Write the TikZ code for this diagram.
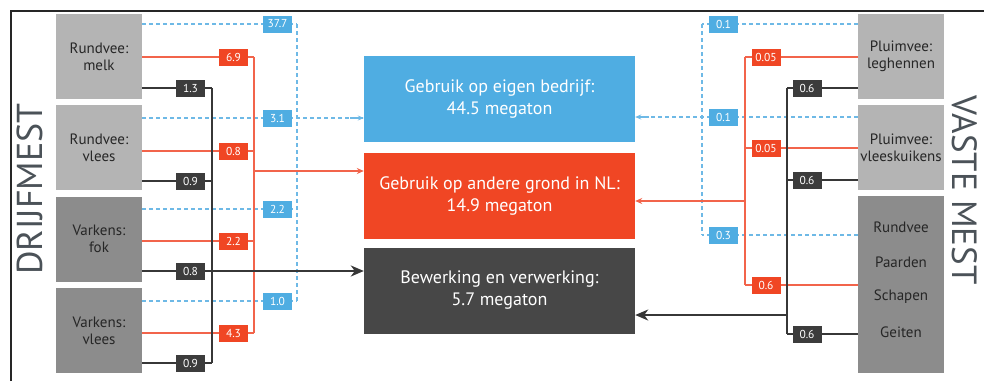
\documentclass[tikz,border=0pt]{standalone}
\usepackage{fontspec}
\setmainfont{PT Sans}
\usetikzlibrary{arrows.meta}
\definecolor{cblue}{RGB}{79,173,226}
\definecolor{cred}{RGB}{240,70,36}
\definecolor{cdark}{RGB}{71,71,71}
\definecolor{clab}{RGB}{60,60,60}
\definecolor{cline}{RGB}{55,55,55}
\definecolor{cgl}{RGB}{180,180,180}
\definecolor{cgd}{RGB}{140,140,140}
\definecolor{ctitle}{RGB}{75,82,88}
\definecolor{cdash}{RGB}{110,185,230}
\definecolor{credl}{RGB}{242,100,75}
\tikzset{
  srcl/.style={fill=cgl, minimum width=86pt, minimum height=85pt, inner sep=0pt, align=center, font=\fontsize{15}{17}\selectfont, text=black!85},
  srcd/.style={srcl, fill=cgd},
  srct/.style={font=\fontsize{15}{17}\selectfont, text=black!85},
  big/.style={minimum width=271pt, minimum height=86pt, inner sep=0pt, align=center, text=white, font=\fontsize{18}{22}\selectfont},
  lab/.style={minimum width=29pt, minimum height=17pt, inner sep=0pt, text=white, font=\fontsize{11.5}{12}\selectfont},
  lb/.style={lab, fill=cblue},
  lr/.style={lab, fill=cred},
  ld/.style={lab, fill=clab},
  bl/.style={draw=cdash, line width=1.1pt, dash pattern=on 4pt off 3pt},
  rl/.style={draw=credl, line width=1.1pt},
  dl/.style={draw=cline, line width=2pt},
  title/.style={text=ctitle, font=\fontsize{36}{36}\selectfont},
}
\begin{document}
\begin{tikzpicture}[x=1pt, y=-1pt]
\useasboundingbox (0,0) rectangle (984,381);
\draw[line width=2pt, black!85] (11,381) -- (11,11) -- (984,11);

% titles
\node[title, rotate=90] (t1) at (30,189) {DRIJFMEST};
\node[title, rotate=-90, font=\fontsize{35}{35}\selectfont] (t2) at (965,190) {VASTE MEST};

% central boxes
\node[big, fill=cblue] (B) at (499.5,99) {Gebruik op eigen bedrijf:\\44.5 megaton};
\node[big, fill=cred] (R) at (499.5,195.5) {Gebruik op andere grond in NL:\\14.9 megaton};
\node[big, fill=cdark] (D) at (499.5,290.5) {Bewerking en verwerking:\\5.7 megaton};

% left source boxes
\node[srcl] (m1) at (99,56.5) {Rundvee:\\melk};
\node[srcl] (m2) at (99,147.5) {Rundvee:\\vlees};
\node[srcd] (m3) at (99,239) {Varkens:\\fok};
\node[srcd] (m4) at (99,330.5) {Varkens:\\vlees};

% right source boxes
\node[srcl] (p1) at (901,56.5) {Pluimvee:\\leghennen};
\node[srcl] (p2) at (901,147.5) {Pluimvee:\\vleeskuikens};
\node[srcd, minimum height=177pt] (p3) at (901,284.5) {};
\node[srct] (q1) at (901,227) {Rundvee};
\node[srct] (q2) at (901,262) {Paarden};
\node[srct] (q3) at (901,297) {Schapen};
\node[srct] (q4) at (901,332) {Geiten};

% left verticals
\coordinate (bvt) at (297,24);
\coordinate (bvb) at (297,301);
\coordinate (rvt) at (254,57);
\coordinate (rvb) at (254,333);
\coordinate (rj) at (254,171);
\coordinate (dvt) at (212,88);
\coordinate (dvb) at (212,363);

% right verticals
\coordinate (Bvt) at (702,24);
\coordinate (Bvb) at (702,235);
\coordinate (Rvt) at (745,57);
\coordinate (Rvb) at (745,285);
\coordinate (Rj) at (745,201);
\coordinate (Dvt) at (787,88);
\coordinate (Dvb) at (787,334);
\coordinate (Dj) at (787,315);

% ---- left blue dashed
\draw[bl] (bvt) -- (bvb);
\draw[bl] (m1.east |- bvt) -- (bvt);
\draw[bl] (m2.east |- 0,118) -- (B.west |- 0,118);
\draw[bl] (m3.east |- 0,209) -- (297,209);
\draw[bl] (m4.east |- bvb) -- (bvb);
\draw[-{Stealth[length=6pt,width=5pt]}, draw=cdash, fill=cdash, line width=1.1pt] (350,118) -- (B.west |- 0,118);

% ---- left red
\draw[rl] (rvt) -- (rvb);
\draw[rl] (m1.east |- rvt) -- (rvt);
\draw[rl] (m2.east |- 0,151) -- (254,151);
\draw[rl] (m3.east |- 0,241) -- (254,241);
\draw[rl] (m4.east |- rvb) -- (rvb);
\draw[rl, -{Stealth[length=7pt,width=6pt]}] (rj) -- (rj -| R.west);

% ---- left dark
\draw[dl] (dvt) -- (dvb);
\draw[dl] (m1.east |- dvt) -- (dvt);
\draw[dl] (m2.east |- 0,181) -- (212,181);
\draw[dl] (m4.east |- dvb) -- (dvb);
\draw[dl, -{Stealth[length=13pt,width=11pt,inset=4pt]}] (m3.east |- 0,271) -- (D.west |- 0,271);

% ---- right blue dashed
\draw[bl] (Bvt) -- (Bvb);
\draw[bl] (p1.west |- Bvt) -- (Bvt);
\draw[bl] (p3.west |- Bvb) -- (Bvb);
\draw[bl] (p2.west |- 0,117) -- (B.east |- 0,117);
\draw[-{Stealth[length=6pt,width=5pt]}, draw=cdash, fill=cdash, line width=1.1pt] (649,117) -- (B.east |- 0,117);

% ---- right red
\draw[rl] (Rvt) -- (Rvb);
\draw[rl] (p1.west |- Rvt) -- (Rvt);
\draw[rl] (p2.west |- 0,148) -- (745,148);
\draw[rl] (p3.west |- Rvb) -- (Rvb);
\draw[rl, -{Stealth[length=7pt,width=6pt]}] (Rj) -- (Rj -| R.east);

% ---- right dark
\draw[dl] (Dvt) -- (Dvb);
\draw[dl] (p1.west |- Dvt) -- (Dvt);
\draw[dl] (p2.west |- 0,180) -- (787,180);
\draw[dl] (p3.west |- Dvb) -- (Dvb);
\draw[dl, -{Stealth[length=13pt,width=11pt,inset=4pt]}] (Dj) -- (Dj -| D.east);

% ---- left labels
\node[lb] (a1) at (277.5,24) {37.7};
\node[lb] (a2) at (277.5,118) {3.1};
\node[lb] (a3) at (277.5,209) {2.2};
\node[lb] (a4) at (277.5,301) {1.0};
\node[lr] (r1) at (233.5,57) {6.9};
\node[lr] (r2) at (233.5,151) {0.8};
\node[lr] (r3) at (233.5,241) {2.2};
\node[lr] (r4) at (233.5,333) {4.3};
\node[ld] (d1) at (190.5,88) {1.3};
\node[ld] (d2) at (190.5,181) {0.9};
\node[ld] (d3) at (190.5,271) {0.8};
\node[ld] (d4) at (190.5,363) {0.9};

% ---- right labels
\node[lb] (c1) at (723.5,24) {0.1};
\node[lb] (c2) at (723.5,117) {0.1};
\node[lb] (c3) at (723.5,235) {0.3};
\node[lr] (e1) at (766,57) {0.05};
\node[lr] (e2) at (766,148) {0.05};
\node[lr] (e3) at (766,285) {0.6};
\node[ld] (f1) at (807,88) {0.6};
\node[ld] (f2) at (807,180) {0.6};
\node[ld] (f3) at (807,334) {0.6};
\end{tikzpicture}
\end{document}
